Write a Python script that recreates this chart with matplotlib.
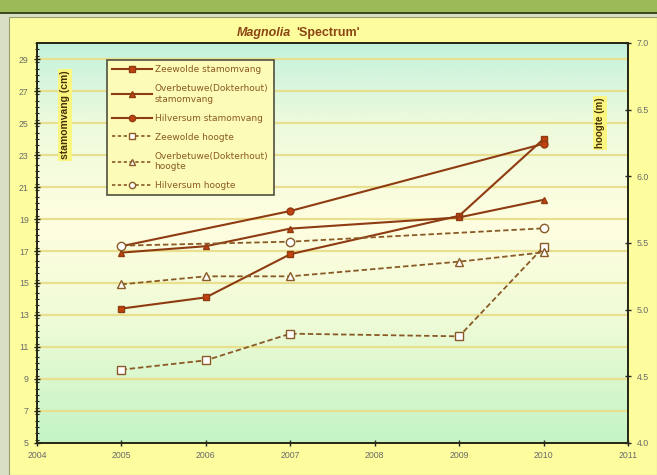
import matplotlib
matplotlib.use("Agg")
import matplotlib.pyplot as plt
import numpy as np
from matplotlib.colors import LinearSegmentedColormap
from matplotlib.lines import Line2D
from matplotlib.patches import Rectangle
from matplotlib.ticker import MultipleLocator, FormatStrFormatter

plt.rcParams['font.family'] = ['Liberation Sans', 'DejaVu Sans']

# data
years = [2005, 2006, 2007, 2009, 2010]
years_hv = [2005, 2007, 2010]
zeewolde_stam = [13.4, 14.1, 16.8, 19.2, 24.0]
overbetuwe_stam = [16.9, 17.3, 18.4, 19.1, 20.2]
hilversum_stam = [17.3, 19.5, 23.7]
zeewolde_hoog = [4.55, 4.62, 4.82, 4.80, 5.47]
overbetuwe_hoog = [5.19, 5.25, 5.25, 5.36, 5.43]
hilversum_hoog = [5.48, 5.51, 5.61]
labels = ["Zeewolde stamomvang", "Overbetuwe(Dokterhout)\nstamomvang",
          "Hilversum stamomvang", "Zeewolde hoogte",
          "Overbetuwe(Dokterhout)\nhoogte", "Hilversum hoogte"]

W, H = 657, 475
fig = plt.figure(figsize=(W / 100, H / 100), dpi=100)
fig.patch.set_facecolor('#d8dfc4')

# outer frame pieces
fig.patches.append(Rectangle((0, 1 - 13 / H), 1, 13 / H, transform=fig.transFigure,
                             facecolor='#9bbb59', edgecolor='none', zorder=-10))
fig.patches.append(Rectangle((0, 1 - 14 / H), 1, 1.5 / H, transform=fig.transFigure,
                             facecolor='#3d4a22', edgecolor='none', zorder=-10))
fig.patches.append(Rectangle((9 / W, 0), 1 - 9 / W, 1 - 17 / H, transform=fig.transFigure,
                             facecolor='#fdfd9e', edgecolor='#9aa070', lw=0.8, zorder=-10))

ax = fig.add_axes([37 / W, 32 / H, 591 / W, 400 / H])
line_c = '#8e3b12'
fill_c = '#c2420f'
dash_c = '#8a5a26'

# plot area gradient
grad_cmap = LinearSegmentedColormap.from_list('bg', [
    (0.0, '#c4f4c6'), (0.3, '#eefbd6'), (0.55, '#fffee0'),
    (0.8, '#eefadc'), (1.0, '#c4f2dc')])
ax.imshow(np.linspace(0, 1, 256).reshape(-1, 1), cmap=grad_cmap, origin='lower',
          extent=[0, 1, 0, 1], transform=ax.transAxes, aspect='auto', zorder=0)

ax.plot(years, zeewolde_stam, '-', color=line_c, lw=1.5, marker='s', ms=5,
        mfc=fill_c, mec=line_c, zorder=3)
ax.plot(years, overbetuwe_stam, '-', color=line_c, lw=1.5, marker='^', ms=5,
        mfc=fill_c, mec=line_c, zorder=3)
ax.plot(years_hv, hilversum_stam, '-', color=line_c, lw=1.5, marker='o', ms=5,
        mfc=fill_c, mec=line_c, zorder=3)

ax.set_xlim(2004, 2011)
ax.set_ylim(5, 30)
ax.set_xticks(range(2004, 2012))
ax.set_yticks(np.arange(5, 30, 2))
ax.yaxis.set_minor_locator(MultipleLocator(0.4))
ax.grid(axis='y', which='major', color='#e8e08e', lw=1.6)
ax.tick_params(axis='both', which='major', direction='inout', length=5, width=1,
               labelsize=6.3, labelcolor='#6a6a6a', color='#202020')
ax.tick_params(axis='y', which='minor', direction='inout', length=2.5, width=0.8,
               color='#202020')
for s in ax.spines.values():
    s.set_color('#2a2a18')
    s.set_linewidth(1.4)

ax2 = ax.twinx()
ax2.plot(years, zeewolde_hoog, '--', color=dash_c, lw=1.3, dashes=(3, 1.6), marker='s',
         ms=6, mfc='white', mec=dash_c, zorder=3)
ax2.plot(years, overbetuwe_hoog, '--', color=dash_c, lw=1.3, dashes=(3, 1.6), marker='^',
         ms=6, mfc='white', mec=dash_c, zorder=3)
ax2.plot(years_hv, hilversum_hoog, '--', color=dash_c, lw=1.3, dashes=(3, 1.6), marker='o',
         ms=6, mfc='white', mec=dash_c, zorder=3)
ax2.set_ylim(4, 7)
ax2.set_yticks(np.arange(4.0, 7.01, 0.5))
ax2.yaxis.set_major_formatter(FormatStrFormatter('%.1f'))
ax2.tick_params(axis='y', direction='inout', length=5, width=1,
                labelsize=6.3, labelcolor='#6a6a6a', color='#202020')
for s in ax2.spines.values():
    s.set_color('#2a2a18')
    s.set_linewidth(1.4)

# axis titles
ax.text(0.047, 0.82, "stamomvang (cm)", transform=ax.transAxes, rotation=90,
        ha='center', va='center', fontsize=7.5, fontweight='bold', color='#4a3208',
        bbox=dict(facecolor='#fbf680', edgecolor='none', pad=1.5), zorder=4)
ax2.text(0.952, 0.80, "hoogte (m)", transform=ax.transAxes, rotation=90,
         ha='center', va='center', fontsize=7, fontweight='bold', color='#4a3208',
         bbox=dict(facecolor='#fbf680', edgecolor='none', pad=1.5), zorder=4)

# title
fig.text(291 / W, 1 - 33 / H, "Magnolia", ha='right', va='center', fontsize=9,
         fontweight='bold', style='italic', color='#8b4513')
fig.text(296 / W, 1 - 33 / H, "'Spectrum'", ha='left', va='center', fontsize=9,
         fontweight='bold', color='#8b4513')

# legend
handles = [
    Line2D([], [], color=line_c, lw=1.5, marker='s', ms=4.5, mfc=fill_c, mec=line_c),
    Line2D([], [], color=line_c, lw=1.5, marker='^', ms=4.5, mfc=fill_c, mec=line_c),
    Line2D([], [], color=line_c, lw=1.5, marker='o', ms=4.5, mfc=fill_c, mec=line_c),
    Line2D([], [], color=dash_c, lw=1.2, ls='--', dashes=(2, 1.5), marker='s', ms=4.5,
           mfc='white', mec=dash_c),
    Line2D([], [], color=dash_c, lw=1.2, ls='--', dashes=(2, 1.5), marker='^', ms=4.5,
           mfc='white', mec=dash_c),
    Line2D([], [], color=dash_c, lw=1.2, ls='--', dashes=(2, 1.5), marker='o', ms=4.5,
           mfc='white', mec=dash_c),
]
leg = ax2.legend(handles, labels, loc='upper left', bbox_to_anchor=(0.118, 0.9575),
                 borderaxespad=0, prop={'family': 'DejaVu Sans', 'size': 6.5},
                 frameon=True, fancybox=False, handlelength=4.4,
                 labelspacing=1.1, borderpad=0.6, handletextpad=0.3,
                 labelcolor='#8a5a20')
leg.get_frame().set_facecolor('#fdfbb8')
leg.get_frame().set_edgecolor('#505040')
leg.get_frame().set_linewidth(1.2)
leg.get_frame().set_alpha(1)
leg.set_zorder(5)

fig.savefig("out.png", dpi=100, facecolor=fig.get_facecolor())
plt.close(fig)
